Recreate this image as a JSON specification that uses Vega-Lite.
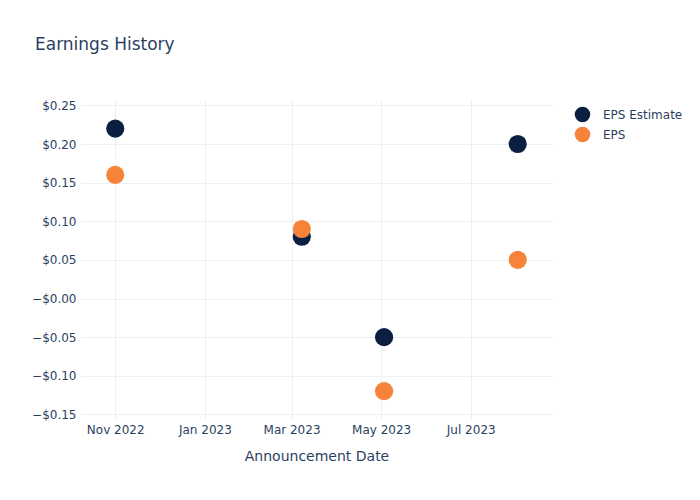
{
  "$schema": "https://vega.github.io/schema/vega-lite/v6.json",
  "autosize": "none",
  "width": 473,
  "height": 319,
  "padding": {"left": 80, "top": 100, "right": 147, "bottom": 81},
  "background": "white",
  "title": {
    "text": "Earnings History",
    "anchor": "start",
    "frame": "group",
    "dx": -45,
    "offset": 45,
    "fontSize": 17,
    "font": "DejaVu Sans",
    "fontWeight": "normal",
    "color": "#2a3f5f"
  },
  "config": {
    "view": {"stroke": null},
    "font": "DejaVu Sans"
  },
  "data": {
    "values": [
      {"date": "2022-11-01", "series": "EPS Estimate", "value": 0.22},
      {"date": "2023-03-08", "series": "EPS Estimate", "value": 0.08},
      {"date": "2023-05-03", "series": "EPS Estimate", "value": -0.05},
      {"date": "2023-08-02", "series": "EPS Estimate", "value": 0.20},
      {"date": "2022-11-01", "series": "EPS", "value": 0.16},
      {"date": "2023-03-08", "series": "EPS", "value": 0.09},
      {"date": "2023-05-03", "series": "EPS", "value": -0.12},
      {"date": "2023-08-02", "series": "EPS", "value": 0.05}
    ]
  },
  "mark": {"type": "point", "filled": true, "opacity": 1, "size": 330, "shape": "circle"},
  "encoding": {
    "x": {
      "field": "date",
      "type": "temporal",
      "title": "Announcement Date",
      "scale": {
        "type": "utc",
        "domain": [
          {"year": 2022, "month": 10, "date": 8, "utc": true},
          {"year": 2023, "month": 8, "date": 26, "utc": true}
        ]
      },
      "axis": {
        "values": [
          {"year": 2022, "month": 11, "date": 1, "utc": true},
          {"year": 2023, "month": 1, "date": 1, "utc": true},
          {"year": 2023, "month": 3, "date": 1, "utc": true},
          {"year": 2023, "month": 5, "date": 1, "utc": true},
          {"year": 2023, "month": 7, "date": 1, "utc": true}
        ],
        "labelExpr": "utcFormat(datum.value, '%b %Y')",
        "domain": false,
        "ticks": false,
        "labelPadding": 5,
        "labelFontSize": 12,
        "labelColor": "#2a3f5f",
        "titleFontSize": 14,
        "titleFontWeight": "normal",
        "titleColor": "#2a3f5f",
        "titlePadding": 14,
        "gridColor": "#ebf0f8",
        "gridWidth": 1
      }
    },
    "y": {
      "field": "value",
      "type": "quantitative",
      "title": null,
      "scale": {"domain": [-0.156, 0.257], "nice": false, "zero": false},
      "axis": {
        "values": [-0.15, -0.1, -0.05, 0, 0.05, 0.1, 0.15, 0.2, 0.25],
        "labelExpr": "(datum.value <= 0 ? '−' : '') + '$' + format(abs(datum.value), '.2f')",
        "domain": false,
        "ticks": false,
        "labelPadding": 4,
        "labelFontSize": 12,
        "labelColor": "#2a3f5f",
        "gridColor": "#ebf0f8",
        "gridWidth": 1
      }
    },
    "color": {
      "field": "series",
      "type": "nominal",
      "sort": ["EPS Estimate", "EPS"],
      "scale": {"domain": ["EPS Estimate", "EPS"], "range": ["#0b1f41", "#f7823a"]},
      "legend": {
        "title": null,
        "orient": "none",
        "legendX": 494,
        "legendY": 6,
        "symbolSize": 240,
        "symbolType": "circle",
        "symbolOpacity": 1,
        "labelFontSize": 12,
        "labelColor": "#2a3f5f",
        "rowPadding": 3,
        "labelOffset": 12
      }
    },
    "order": {"field": "series", "sort": "descending"}
  }
}
